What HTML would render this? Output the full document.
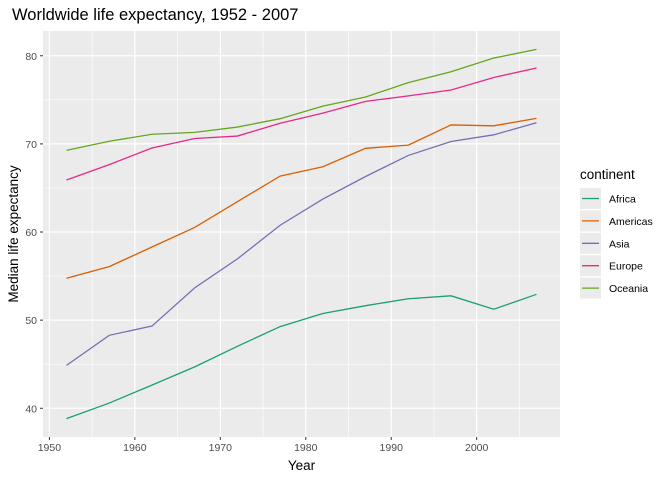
<!DOCTYPE html>
<html><head><meta charset="utf-8"><style>
body{margin:0;background:#fff;font-family:"Liberation Sans",sans-serif}
</style></head><body>
<svg id="c" width="672" height="480" xmlns="http://www.w3.org/2000/svg"></svg>
<script>
const years=[1952,1957,1962,1967,1972,1977,1982,1987,1992,1997,2002,2007];
const continents=["Africa","Americas","Asia","Europe","Oceania"];
const colors=["#1B9E77","#D95F02","#7570B3","#E7298A","#66A61E"];
const africa=[38.83,40.59,42.63,44.70,47.03,49.27,50.76,51.64,52.43,52.76,51.24,52.93];
const americas=[54.75,56.07,58.30,60.52,63.44,66.35,67.41,69.50,69.86,72.15,72.05,72.90];
const asia=[44.87,48.28,49.33,53.66,56.95,60.77,63.74,66.30,68.69,70.27,71.03,72.40];
const europe=[65.90,67.65,69.53,70.61,70.89,72.34,73.49,74.82,75.45,76.12,77.54,78.61];
const oceania=[69.26,70.30,71.09,71.31,71.91,72.86,74.29,75.32,76.95,78.19,79.74,80.72];
const series=[africa,americas,asia,europe,oceania];
const xTicks=[1950,1960,1970,1980,1990,2000];
const yTicks=[40,50,60,70,80];
const L=43,R=560,T=31,B=437;
const x0=1949.25,x1=2009.75,y0=36.74,y1=82.81;
const X=v=>L+(v-x0)/(x1-x0)*(R-L);
const Y=v=>B-(v-y0)/(y1-y0)*(B-T);
const svg=document.getElementById('c');
const NS="http://www.w3.org/2000/svg";
function mk(t,a,p){const e=document.createElementNS(NS,t);for(const k in a)e.setAttribute(k,a[k]);(p||svg).appendChild(e);return e;}
let e=mk('rect',{x:L,y:T,width:R-L,height:B-T,fill:'#EBEBEB'});


for(let i=0;i<xTicks.length;i++){const m=xTicks[i]+5;if(m<x1){e=mk('line',{x1:X(m),x2:X(m),y1:T,y2:B,stroke:'#fff','stroke-width':0.6});}}
for(let i=0;i<yTicks.length;i++){const m=yTicks[i]-5;if(m>y0){e=mk('line',{x1:L,x2:R,y1:Y(m),y2:Y(m),stroke:'#fff','stroke-width':0.6});}}
{const m=85;}
xTicks.forEach(t=>{e=mk('line',{x1:X(t),x2:X(t),y1:T,y2:B,stroke:'#fff','stroke-width':1.2});
e=mk('line',{x1:X(t),x2:X(t),y1:B,y2:B+3,stroke:'#333','stroke-width':1});
e=mk('text',{x:X(t),y:B+14,'text-anchor':'middle','font-size':10.5,fill:'#4D4D4D'});e.textContent=t;});
yTicks.forEach(t=>{e=mk('line',{x1:L,x2:R,y1:Y(t),y2:Y(t),stroke:'#fff','stroke-width':1.2});
e=mk('line',{x1:L-3,x2:L,y1:Y(t),y2:Y(t),stroke:'#333','stroke-width':1});
e=mk('text',{x:L-6,y:Y(t)+4,'text-anchor':'end','font-size':10.5,fill:'#4D4D4D'});e.textContent=t;});
series.forEach((s,i)=>{e=mk('polyline',{points:s.map((v,j)=>X(years[j])+','+Y(v)).join(' '),fill:'none',stroke:colors[i],'stroke-width':1.3});});
e=mk('text',{x:12,y:20,'font-size':16.5,fill:'#000'});e.textContent='Worldwide life expectancy, 1952 - 2007';
e=mk('text',{x:(L+R)/2,y:470,'text-anchor':'middle','font-size':13.5,fill:'#000'});e.textContent='Year';
e=mk('text',{x:18,y:(T+B)/2,'text-anchor':'middle','font-size':13.5,fill:'#000',transform:'rotate(-90 18 '+((T+B)/2)+')'});e.textContent='Median life expectancy';
e=mk('text',{x:580,y:179,'font-size':13.5,fill:'#000'});e.textContent='continent';
continents.forEach((c,i)=>{const y=188+i*22.4;
e=mk('rect',{x:580,y:y,width:21,height:21,fill:'#EBEBEB'});
e=mk('line',{x1:582,x2:599,y1:y+10.5,y2:y+10.5,stroke:colors[i],'stroke-width':1.3});
e=mk('text',{x:609,y:y+14.5,'font-size':10.5,fill:'#000'});e.textContent=c;});
</script>
</body></html>
